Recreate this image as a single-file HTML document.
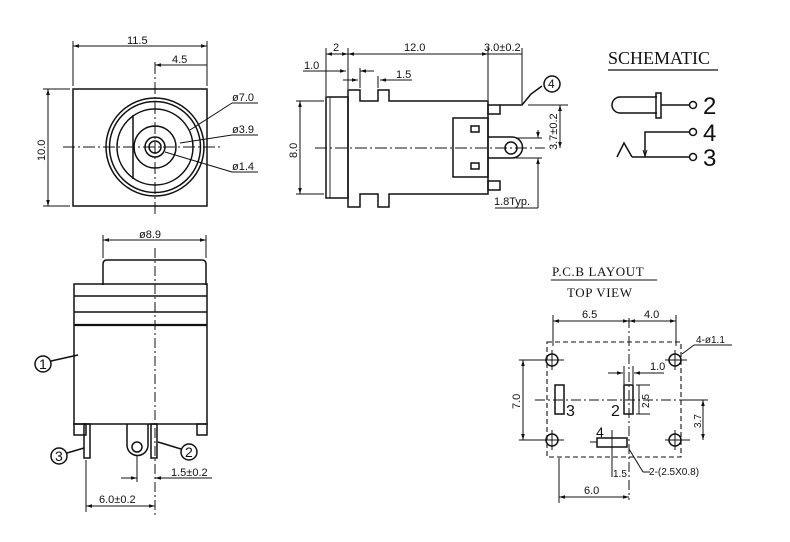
<!DOCTYPE html>
<html><head><meta charset="utf-8"><style>
html,body{margin:0;padding:0;background:#fff}
svg{display:block}
text{font-family:"Liberation Sans",sans-serif;fill:#111}
</style></head><body>
<svg width="790" height="542" viewBox="0 0 790 542" xmlns="http://www.w3.org/2000/svg">
<defs>
<marker id="a" viewBox="0 0 10 10" refX="10" refY="5" markerWidth="6" markerHeight="6" orient="auto-start-reverse"><path d="M0,2L10,5L0,8z" fill="#111"/></marker>
</defs>
<g stroke="#111" fill="none" stroke-width="1.5">
<!-- FRONT VIEW -->
<rect x="73" y="89" width="134" height="117"/>
<circle cx="155" cy="147" r="49"/>
<circle cx="155" cy="147" r="45.5"/>
<circle cx="155" cy="147" r="38"/>
<line x1="133" y1="115" x2="133" y2="179"/>
<circle cx="155" cy="147" r="21"/>
<circle cx="155" cy="147" r="10"/>
<circle cx="155" cy="147" r="6"/>
<g stroke-width="1" stroke-dasharray="12,3,2,3">
<line x1="63" y1="147" x2="222" y2="147"/>
<line x1="155" y1="62" x2="155" y2="216"/>
</g>
<g stroke-width="1">
<line x1="73" y1="41" x2="73" y2="86"/><line x1="207" y1="41" x2="207" y2="86"/>
<line x1="73" y1="46" x2="207" y2="46" marker-start="url(#a)" marker-end="url(#a)"/>
<line x1="155" y1="65" x2="207" y2="65" marker-start="url(#a)"/>
<line x1="43" y1="89" x2="70" y2="89"/><line x1="43" y1="206" x2="70" y2="206"/>
<line x1="48" y1="89" x2="48" y2="206" marker-start="url(#a)" marker-end="url(#a)"/>
<polyline points="258,103 232,103"/><line x1="232" y1="103" x2="190" y2="130"/>
<polyline points="258,135 232,135"/><line x1="232" y1="135" x2="180" y2="143"/>
<polyline points="258,172 232,172"/><line x1="232" y1="172" x2="165" y2="152"/>
</g>
<!-- SIDE VIEW -->
<rect x="326" y="97" width="22" height="101"/>
<line x1="330" y1="97" x2="330" y2="198" stroke-width="0.9"/>
<path d="M348,90 H360 V101 H378 V90 H389 V101 H488 V194 H389 V207 H378 V194 H360 V207 H348 Z"/>
<rect x="453" y="118" width="35" height="59"/>
<rect x="471" y="126" width="8" height="6"/>
<rect x="471" y="163" width="8" height="6"/>
<rect x="488" y="105" width="12" height="9"/>
<rect x="488" y="181" width="12" height="9"/>
<path d="M488,137 H512 A10.5,10.5 0 0 1 512,158 H488"/>
<circle cx="511" cy="148" r="6"/>
<polyline points="500,105 522,105 531,94 542,86"/>
<circle cx="552" cy="84" r="8"/>
<g stroke-width="1">
<line x1="315" y1="148" x2="545" y2="148" stroke-dasharray="12,3,2,3"/>
<line x1="326" y1="48" x2="326" y2="96"/><line x1="348" y1="48" x2="348" y2="89"/>
<line x1="488" y1="48" x2="488" y2="100"/><line x1="522" y1="48" x2="522" y2="104"/>
<line x1="326" y1="54" x2="348" y2="54" marker-start="url(#a)" marker-end="url(#a)"/>
<line x1="348" y1="54" x2="488" y2="54" marker-start="url(#a)" marker-end="url(#a)"/>
<line x1="488" y1="54" x2="522" y2="54"/>
<line x1="303" y1="71" x2="346" y2="71" marker-end="url(#a)"/>
<line x1="360" y1="71" x2="374" y2="71" marker-start="url(#a)"/>
<line x1="360" y1="68" x2="360" y2="88"/>
<line x1="343" y1="80" x2="358" y2="80" marker-end="url(#a)"/>
<line x1="378" y1="76" x2="378" y2="88"/>
<line x1="380" y1="80" x2="412" y2="80" marker-start="url(#a)"/>
<line x1="296" y1="101" x2="324" y2="101"/><line x1="296" y1="194" x2="324" y2="194"/>
<line x1="300" y1="101" x2="300" y2="194" marker-start="url(#a)" marker-end="url(#a)"/>
<line x1="528" y1="105" x2="568" y2="105"/>
<line x1="560" y1="105" x2="560" y2="148" marker-start="url(#a)" marker-end="url(#a)"/>
<line x1="516" y1="138" x2="542" y2="138"/><line x1="516" y1="158" x2="542" y2="158"/>
<line x1="538" y1="130" x2="538" y2="138" marker-end="url(#a)"/>
<line x1="538" y1="168" x2="538" y2="158" marker-end="url(#a)"/>
<line x1="538" y1="158" x2="538" y2="208"/>
<line x1="495" y1="208" x2="538" y2="208"/>
</g>
<!-- SCHEMATIC -->
<line x1="608" y1="70" x2="718" y2="70" stroke-width="1.2"/>
<path d="M657,97 H620 A8,8 0 0 0 620,113 H657"/>
<rect x="656" y="93" width="5" height="25"/>
<line x1="661" y1="105" x2="690" y2="105"/>
<circle cx="693" cy="105" r="3.5"/>
<polyline points="645,157 645,132 690,132"/>
<circle cx="693" cy="132" r="3.5"/>
<polyline points="617,157 624,143 632,157"/>
<line x1="632" y1="157" x2="690" y2="157"/>
<circle cx="693" cy="157" r="3.5"/>
<path d="M643,150 L645,156 L647,150" stroke-width="1"/>
<!-- BOTTOM VIEW -->
<path d="M103,285 V264 Q103,260 107,260 H202 Q206,260 206,264 V285"/>
<rect x="74" y="284" width="133" height="140"/>
<line x1="74" y1="296" x2="207" y2="296"/>
<line x1="74" y1="312" x2="207" y2="312"/>
<line x1="74" y1="325" x2="207" y2="325" stroke-width="2.2"/>
<rect x="74" y="424" width="12" height="11"/>
<rect x="197" y="424" width="10" height="11"/>
<rect x="84" y="424" width="6" height="34"/>
<rect x="151" y="424" width="6" height="34"/>
<path d="M127,424 V445 A10.5,10.5 0 0 0 148,445 V424"/>
<circle cx="137" cy="447" r="5"/>
<circle cx="43" cy="364" r="8"/><line x1="51" y1="361" x2="78" y2="355"/>
<circle cx="59" cy="456" r="8"/><line x1="67" y1="453" x2="84" y2="448"/>
<circle cx="189" cy="452" r="8"/><line x1="181" y1="449" x2="158" y2="442"/>
<g stroke-width="1">
<line x1="155" y1="248" x2="155" y2="515" stroke-dasharray="10,3,2,3"/>
<line x1="103" y1="235" x2="103" y2="258"/><line x1="206" y1="235" x2="206" y2="258"/>
<line x1="103" y1="240" x2="206" y2="240" marker-start="url(#a)" marker-end="url(#a)"/>
<line x1="137" y1="455" x2="137" y2="482"/>
<line x1="121" y1="478" x2="137" y2="478" marker-end="url(#a)"/>
<line x1="212" y1="478" x2="155" y2="478" marker-end="url(#a)"/>
<line x1="86" y1="460" x2="86" y2="512"/>
<line x1="86" y1="506" x2="155" y2="506" marker-start="url(#a)" marker-end="url(#a)"/>
</g>
<!-- PCB -->
<line x1="551" y1="280" x2="657" y2="280" stroke-width="1.1"/>
<rect x="547" y="342" width="134" height="115" stroke-dasharray="5,3" stroke-width="1.1"/>
<circle cx="552" cy="360" r="6"/><circle cx="675" cy="360" r="6"/>
<circle cx="552" cy="440" r="6"/><circle cx="675" cy="440" r="6"/>
<rect x="555" y="385" width="9" height="29"/>
<rect x="624" y="385" width="9" height="29"/>
<rect x="597" y="438" width="30" height="9"/>
<g stroke-width="1">
<line x1="535" y1="400" x2="708" y2="400" stroke-dasharray="10,3,2,3"/>
<line x1="629" y1="318" x2="629" y2="500" stroke-dasharray="10,3,2,3"/>
<line x1="542" y1="360" x2="564" y2="360"/><line x1="552" y1="350" x2="552" y2="370"/>
<line x1="665" y1="360" x2="687" y2="360"/><line x1="675" y1="350" x2="675" y2="370"/>
<line x1="542" y1="440" x2="564" y2="440"/><line x1="552" y1="430" x2="552" y2="450"/>
<line x1="665" y1="440" x2="690" y2="440"/><line x1="675" y1="430" x2="675" y2="450"/>
<line x1="590" y1="442" x2="597" y2="442"/>
<line x1="553" y1="315" x2="553" y2="346"/><line x1="676" y1="315" x2="676" y2="346"/>
<line x1="553" y1="321" x2="629" y2="321" marker-start="url(#a)" marker-end="url(#a)"/>
<line x1="629" y1="321" x2="676" y2="321" marker-start="url(#a)" marker-end="url(#a)"/>
<line x1="519" y1="360" x2="545" y2="360"/><line x1="519" y1="440" x2="545" y2="440"/>
<line x1="523" y1="360" x2="523" y2="440" marker-start="url(#a)" marker-end="url(#a)"/>
<line x1="624" y1="366" x2="624" y2="384"/><line x1="633" y1="366" x2="633" y2="384"/>
<line x1="608" y1="373" x2="623" y2="373" marker-end="url(#a)"/>
<line x1="664" y1="373" x2="634" y2="373" marker-end="url(#a)"/>
<line x1="636" y1="385" x2="650" y2="385"/><line x1="636" y1="414" x2="650" y2="414"/>
<line x1="639" y1="385" x2="639" y2="414"/>
<line x1="683" y1="400" x2="708" y2="400"/>
<line x1="703" y1="400" x2="703" y2="440" marker-start="url(#a)" marker-end="url(#a)"/>
<line x1="682" y1="354" x2="694" y2="345"/><line x1="694" y1="345" x2="732" y2="345"/>
<line x1="612" y1="430" x2="612" y2="477"/>
<line x1="629" y1="449" x2="643" y2="472"/><line x1="643" y1="472" x2="650" y2="472"/>
<line x1="559" y1="458" x2="559" y2="503"/>
<line x1="559" y1="497" x2="629" y2="497" marker-start="url(#a)" marker-end="url(#a)"/>
</g>
</g>
<!-- TEXT -->
<g font-size="11">
<text x="127" y="44">11.5</text>
<text x="172" y="63">4.5</text>
<text x="45" y="161" transform="rotate(-90 45 161)">10.0</text>
<text x="232" y="101">ø7.0</text>
<text x="232" y="133">ø3.9</text>
<text x="232" y="170">ø1.4</text>
<text x="333" y="51">2</text>
<text x="404" y="51">12.0</text>
<text x="484" y="51">3.0±0.2</text>
<text x="304" y="69">1.0</text>
<text x="396" y="78">1.5</text>
<text x="297" y="158" transform="rotate(-90 297 158)">8.0</text>
<text x="548" y="88" font-size="12">4</text>
<text x="557" y="150" transform="rotate(-90 557 150)">3.7±0.2</text>
<text x="494" y="205">1.8Typ.</text>
<text x="139" y="238">ø8.9</text>
<text x="39" y="369" font-size="14">1</text>
<text x="55" y="461" font-size="14">3</text>
<text x="185" y="457" font-size="14">2</text>
<text x="171" y="476">1.5±0.2</text>
<text x="99" y="503">6.0±0.2</text>
<text x="582" y="318">6.5</text>
<text x="644" y="318">4.0</text>
<text x="696" y="343" font-size="10">4-ø1.1</text>
<text x="520" y="409" transform="rotate(-90 520 409)">7.0</text>
<text x="650" y="370">1.0</text>
<text x="649" y="408" font-size="10" transform="rotate(-90 649 408)">2.5</text>
<text x="701" y="428" font-size="10" transform="rotate(-90 701 428)">3.7</text>
<text x="613" y="477" font-size="10">1.5</text>
<text x="649" y="475" font-size="10">2-(2.5X0.8)</text>
<text x="584" y="494">6.0</text>
</g>
<text x="566" y="416" font-size="16">3</text>
<text x="611" y="416" font-size="16">2</text>
<text x="596" y="437" font-size="14">4</text>
<text x="608" y="64" font-size="18" style="font-family:'Liberation Serif',serif">SCHEMATIC</text>
<text x="703" y="114" font-size="24">2</text>
<text x="703" y="141" font-size="24">4</text>
<text x="703" y="166" font-size="24">3</text>
<text x="552" y="276" font-size="13" style="font-family:'Liberation Serif',serif" letter-spacing="0.6">P.C.B LAYOUT</text>
<text x="567" y="297" font-size="13" style="font-family:'Liberation Serif',serif" letter-spacing="0.6">TOP VIEW</text>
</svg>
</body></html>
